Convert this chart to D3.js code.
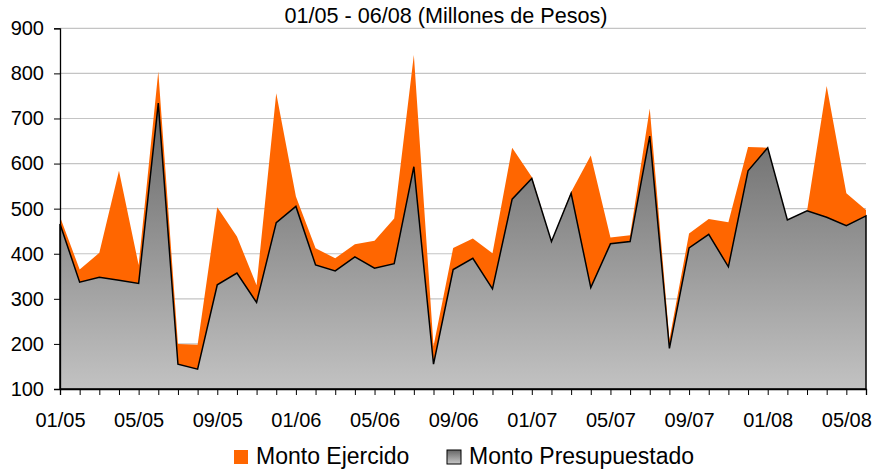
<!DOCTYPE html>
<html>
<head>
<meta charset="utf-8">
<script src="https://cdn.jsdelivr.net/npm/d3@7"></script>
<style>
  body { margin: 0; background: #fff; }
  text { font-family: "Liberation Sans", Arial, sans-serif; fill: #000; }
</style>
</head>
<body>
<svg id="chart" width="876" height="469"></svg>
<script>

/////////////////////////////////
// DATA
//////////////////////////////////

// one point per month, 01/05 to 06/08
var months = d3.timeMonth.range(new Date(2005, 0, 1), new Date(2008, 6, 1));

var ejercido = [482, 365, 402, 584, 375, 804, 200, 198, 503, 438, 330, 756, 527, 412, 390, 421, 429, 478, 841, 195, 413,
                434, 401, 635, 570, 427, 537, 618, 436, 441, 722, 210, 445, 477, 470, 637, 635, 475, 495, 772, 534, 497];

var presupuestado = [466, 337, 348, 341, 334, 734, 155, 144, 331, 357, 292, 469, 505, 375, 362, 393, 368, 378, 593, 155, 365,
                     390, 322, 521, 567, 427, 534, 325, 422, 427, 661, 190, 413, 443, 371, 584, 635, 475, 495, 481, 462, 484];

var yTicks = [100, 200, 300, 400, 500, 600, 700, 800, 900];
var seriesNames = ["Monto Ejercido", "Monto Presupuestado"];
var title = "01/05 - 06/08 (Millones de Pesos)";


/////////////////////////////////
// SCALES
//////////////////////////////////

var plot = {left: 60, right: 866, top: 28.3, bottom: 389};

var x = d3.scaleLinear()
  .domain([0, months.length - 1])
  .range([plot.left, plot.right]);

var y = d3.scaleLinear()
  .domain([100, 900])
  .range([plot.bottom, plot.top]);

var fmt = d3.timeFormat("%m/%y");

var svg = d3.select("#chart");

// gradient for the gray area
var defs = svg.append("defs");
var grad = defs.append("linearGradient")
  .attr("id", "grayGrad")
  .attr("gradientUnits", "userSpaceOnUse")
  .attr("x1", 0).attr("x2", 0)
  .attr("y1", y(d3.max(presupuestado))).attr("y2", plot.bottom);
grad.append("stop").attr("offset", "0%").attr("stop-color", "#666666");
grad.append("stop").attr("offset", "100%").attr("stop-color", "#c2c2c2");

var legGrad = defs.append("linearGradient")
  .attr("id", "legGrad")
  .attr("x1", 0).attr("x2", 0).attr("y1", 0).attr("y2", 1);
legGrad.append("stop").attr("offset", "0%").attr("stop-color", "#666666");
legGrad.append("stop").attr("offset", "100%").attr("stop-color", "#c8c8c8");


/////////////////////////////////
// GRIDLINES
//////////////////////////////////

svg.append("g")
  .selectAll("line")
  .data(yTicks)
  .enter()
  .append("line")
    .attr("x1", plot.left)
    .attr("x2", plot.right)
    .attr("y1", function(d) { return y(d); })
    .attr("y2", function(d) { return y(d); })
    .attr("stroke", "#c4c4c4")
    .attr("stroke-width", 1.2);


/////////////////////////////////
// AREAS
//////////////////////////////////

var area = d3.area()
  .x(function(d, i) { return x(i); })
  .y0(y(100))
  .y1(function(d) { return y(d); });

svg.append("path")
  .datum(ejercido)
  .attr("fill", "#ff6600")
  .attr("d", area);

svg.append("path")
  .datum(presupuestado)
  .attr("fill", "url(#grayGrad)")
  .attr("stroke", "#000")
  .attr("stroke-width", 1.5)
  .attr("stroke-linejoin", "miter")
  .attr("d", area);


/////////////////////////////////
// AXES
//////////////////////////////////

var yAxis = d3.axisLeft(y)
  .tickValues(yTicks)
  .tickSize(6)
  .tickPadding(10);

svg.append("g")
  .attr("transform", "translate(" + plot.left + ",0)")
  .call(yAxis)
  .call(function(g) {
    g.select(".domain").attr("stroke", "#000").attr("stroke-width", 1.3);
    g.selectAll(".tick line").attr("stroke", "#000");
    g.selectAll("text").attr("font-size", "20px").attr("font-family", "Liberation Sans, Arial, sans-serif");
  });

var xAxis = d3.axisBottom(x)
  .tickValues(d3.range(months.length))
  .tickSize(6)
  .tickPadding(18)
  .tickFormat(function(i) { return i % 4 === 0 ? fmt(months[i]) : ""; });

svg.append("g")
  .attr("transform", "translate(0," + plot.bottom + ")")
  .call(xAxis)
  .call(function(g) {
    g.select(".domain").attr("stroke", "#000").attr("stroke-width", 1.3);
    g.selectAll(".tick line").attr("stroke", "#000");
    g.selectAll("text").attr("font-size", "20px").attr("font-family", "Liberation Sans, Arial, sans-serif");
  });


/////////////////////////////////
// TITLE + LEGEND
//////////////////////////////////

svg.append("text")
  .attr("x", 446)
  .attr("y", 23)
  .attr("text-anchor", "middle")
  .attr("font-size", "21.6px")
  .text(title);

var legendItems = [
  {name: seriesNames[0], x: 234, fill: "#ff6600", stroke: "none"},
  {name: seriesNames[1], x: 447, fill: "url(#legGrad)", stroke: "#000"}
];

var legend = svg.append("g")
  .selectAll("g")
  .data(legendItems)
  .enter()
  .append("g")
    .attr("transform", function(d) { return "translate(" + d.x + ",450)"; });

legend.append("rect")
  .attr("width", 14)
  .attr("height", 14)
  .attr("fill", function(d) { return d.fill; })
  .attr("stroke", function(d) { return d.stroke; });

legend.append("text")
  .attr("x", 22)
  .attr("y", 14)
  .attr("font-size", "23px")
  .text(function(d) { return d.name; });

</script>
</body>
</html>
